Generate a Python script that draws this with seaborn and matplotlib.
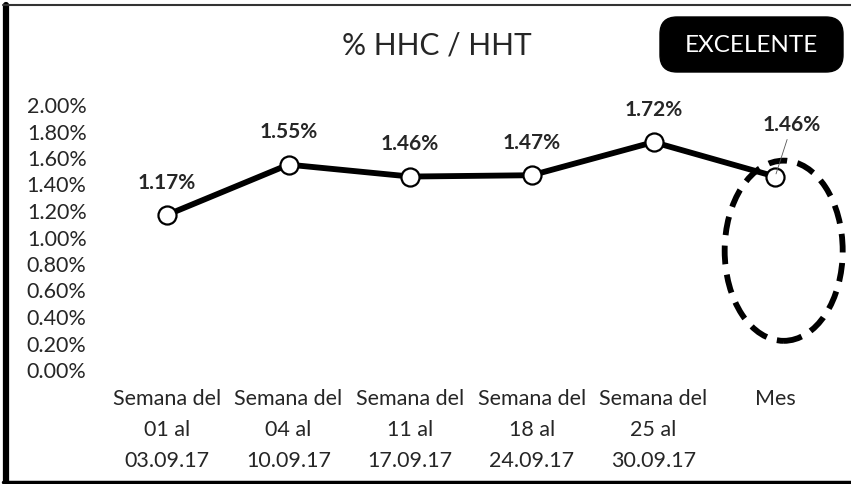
import matplotlib
matplotlib.use("Agg")
import matplotlib.pyplot as plt
from matplotlib.patches import Ellipse, FancyBboxPatch
from matplotlib.lines import Line2D
import seaborn as sns
import pandas as pd

# Weekly and monthly ratio of HHC to HHT (in percent)
periods = [
    "Semana del\n01 al\n03.09.17",
    "Semana del\n04 al\n10.09.17",
    "Semana del\n11 al\n17.09.17",
    "Semana del\n18 al\n24.09.17",
    "Semana del\n25 al\n30.09.17",
    "Mes",
]
ratio_pct = [1.17, 1.55, 1.46, 1.47, 1.72, 1.46]
y_ticks = [0.0, 0.2, 0.4, 0.6, 0.8, 1.0, 1.2, 1.4, 1.6, 1.8, 2.0]
title_text = "% HHC / HHT"
status_text = "EXCELENTE"

df = pd.DataFrame({"periodo": periods, "ratio": ratio_pct})

sns.set_theme(style="white")
plt.rcParams["font.family"] = ["Lato", "DejaVu Sans"]

fig = plt.figure(figsize=(8.51, 4.84), dpi=100)
fig.patch.set_facecolor("white")
W, H = 851, 484
ax = fig.add_axes([106 / W, 1 - 370 / H, (836 - 106) / W, (370 - 105) / H])

sns.lineplot(
    data=df, x="periodo", y="ratio", sort=False, ax=ax,
    color="black", linewidth=4.2,
    marker="o", markersize=13, markerfacecolor="white",
    markeredgecolor="black", markeredgewidth=1.6,
)

ax.set_xlim(-0.5, len(periods) - 0.5)
ax.set_ylim(y_ticks[0], y_ticks[-1])
ax.set_yticks(y_ticks)
ax.set_yticklabels([f"{v:.2f}%" for v in y_ticks], fontsize=15.5)
ax.set_xticks(range(len(periods)))
ax.set_xticklabels(periods, fontsize=15.5, linespacing=1.68)
ax.tick_params(axis="x", pad=13.5, length=0)
ax.tick_params(axis="y", pad=14, length=0)
ax.set_xlabel("")
ax.set_ylabel("")
for s in ax.spines.values():
    s.set_visible(False)
ax.grid(False)
ax.set_facecolor("none")

# value labels above each point; the monthly one sits off to the right with a leader
for i, v in enumerate(ratio_pct[:-1]):
    ax.annotate(f"{v:.2f}%", (i, v), xytext=(0, 16), textcoords="offset points",
                ha="center", va="bottom", fontsize=15, fontweight="bold")
last = len(ratio_pct) - 1
ax.annotate(f"{ratio_pct[last]:.2f}%", (last, ratio_pct[last]), xytext=(12, 30),
            textcoords="offset points", ha="center", va="bottom",
            fontsize=15, fontweight="bold",
            arrowprops=dict(arrowstyle="-", color="#555555", lw=0.6,
                            shrinkA=1, shrinkB=2))

# dashed highlight around the monthly value
ax.add_patch(Ellipse((last + 0.07, ratio_pct[last] - 0.56), 0.97, 1.36,
                     fill=False, edgecolor="black", linewidth=4.2,
                     linestyle=(0, (3.2, 1.8)), clip_on=False, zorder=1))

fig.text(437 / W, 1 - 46 / H, title_text, ha="center", va="center", fontsize=21.5)

badge = FancyBboxPatch((660 / W, 1 - 72 / H), (843 - 660) / W, (72 - 17) / H,
                       boxstyle="round,pad=0,rounding_size=0.02",
                       transform=fig.transFigure, facecolor="black",
                       edgecolor="black", mutation_aspect=W / H)
fig.add_artist(badge)
fig.text(751 / W, 1 - 45 / H, status_text, ha="center", va="center",
         fontsize=17.5, color="white")

# chart frame
fig.add_artist(Line2D([5.5 / W, 5.5 / W], [0, 1 - 5 / H], transform=fig.transFigure,
                      color="black", linewidth=4.5))
fig.add_artist(Line2D([3 / W, 1], [1 - 5 / H, 1 - 5 / H], transform=fig.transFigure,
                      color="#333333", linewidth=1.5))
fig.add_artist(Line2D([3 / W, 1], [1 - 482 / H, 1 - 482 / H], transform=fig.transFigure,
                      color="black", linewidth=2.5))

fig.savefig("out.png", dpi=100, facecolor="white")
